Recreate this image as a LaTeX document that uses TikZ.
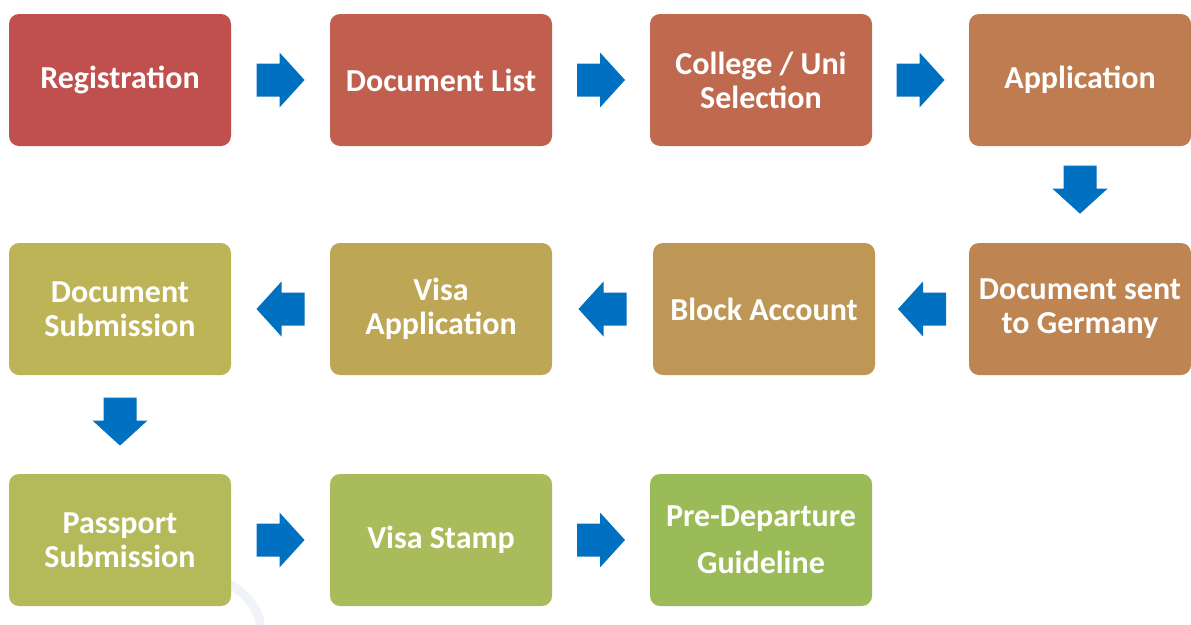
\documentclass[tikz,border=0pt]{standalone}
\usepackage{fontspec}
\setmainfont{Carlito}
\usetikzlibrary{calc}
\definecolor{arrowblue}{HTML}{0070C0}
\definecolor{cA}{HTML}{C0504D}
\definecolor{cB}{HTML}{C05F4E}
\definecolor{cC}{HTML}{BF6A4E}
\definecolor{cD}{HTML}{BE7C50}
\definecolor{cE}{HTML}{BE8452}
\definecolor{cF}{HTML}{BE9656}
\definecolor{cG}{HTML}{BDA655}
\definecolor{cH}{HTML}{BDB457}
\definecolor{cI}{HTML}{B4BA5A}
\definecolor{cJ}{HTML}{AABB5B}
\definecolor{cK}{HTML}{9BBB59}
\definecolor{wm}{HTML}{F1F3FA}
\tikzset{
  stepbox/.style={rounded corners=10pt, minimum width=222pt, minimum height=132pt,
    inner sep=0pt, text=white, align=center,
    font=\fontsize{32}{34}\selectfont\bfseries},
  blockarrow/.pic={\fill[arrowblue] (-24,-16.5) -- (-1,-16.5) -- (-1,-27.5) -- (24,0)
     -- (-1,27.5) -- (-1,16.5) -- (-24,16.5) -- cycle;}
}
\begin{document}
\begin{tikzpicture}[x=1pt,y=-1pt]
\useasboundingbox (0,0) rectangle (1191,624);
\fill[white] (0,0) rectangle (1191,624);
% faint watermark
\draw[wm, line width=9pt, line cap=round] (208,577) .. controls (235,582) and (255,600) .. (260,622);
% row 1
\node[stepbox, fill=cA] (reg) at (120,80) {Registration};
\node[stepbox, fill=cB] (doclist) at (441,80) {Document List};
\node[stepbox, fill=cC] (college) at (761,80) {College / Uni\\Selection};
\node[stepbox, fill=cD] (app) at (1080,80) {Application};
% row 2
\node[stepbox, fill=cE] (sent) at (1080,309) {Document sent\\to Germany};
\node[stepbox, fill=cF] (block) at (764,309) {Block Account};
\node[stepbox, fill=cG] (visaapp) at (441,309) {Visa\\Application};
\node[stepbox, fill=cH] (docsub) at (120,309) {Document\\Submission};
% row 3
\node[stepbox, fill=cI] (pass) at (120,540) {Passport\\Submission};
\node[stepbox, fill=cJ] (stamp) at (441,540) {Visa Stamp};
\node[stepbox, fill=cK, font=\fontsize{32}{47}\selectfont\bfseries] (pre) at (761,540) {Pre-Departure\\Guideline};
% arrows
\pic at ($(reg.east)!0.5!(doclist.west)$) {blockarrow};
\pic at ($(doclist.east)!0.5!(college.west)$) {blockarrow};
\pic at ($(college.east)!0.5!(app.west)$) {blockarrow};
\pic[rotate=-90] at ($(app.south)!0.45!(sent.north)$) {blockarrow};
\pic[rotate=180] at ($(sent.west)!0.5!(block.east)$) {blockarrow};
\pic[rotate=180] at ($(block.west)!0.5!(visaapp.east)$) {blockarrow};
\pic[rotate=180] at ($(visaapp.west)!0.5!(docsub.east)$) {blockarrow};
\pic[rotate=-90] at ($(docsub.south)!0.47!(pass.north)$) {blockarrow};
\pic at ($(pass.east)!0.5!(stamp.west)$) {blockarrow};
\pic at ($(stamp.east)!0.5!(pre.west)$) {blockarrow};
\end{tikzpicture}
\end{document}
